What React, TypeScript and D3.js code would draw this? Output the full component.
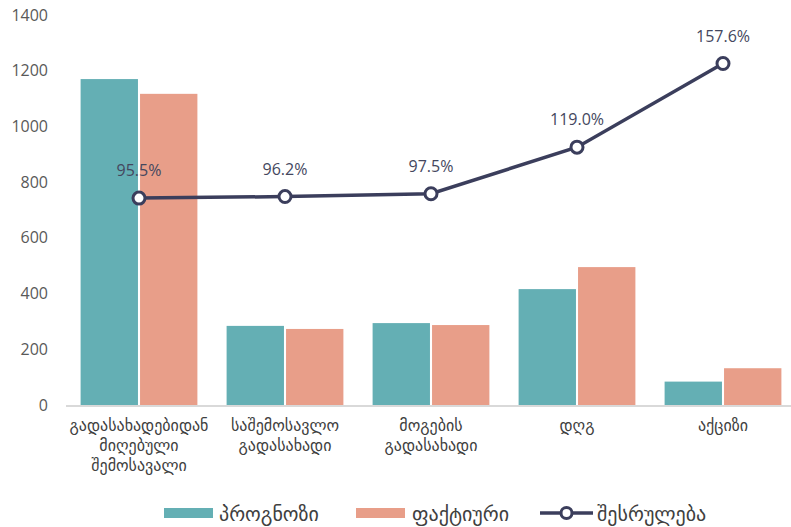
import { useEffect, useRef } from "react";
import * as d3 from "d3";

const categories = [
  ["გადასახადებიდან", "მიღებული", "შემოსავალი"],
  ["საშემოსავლო", "გადასახადი"],
  ["მოგების", "გადასახადი"],
  ["დღგ"],
  ["აქციზი"],
];
const forecast = [1170, 284, 294, 416, 84];
const actual = [1117, 273, 287, 495, 132];
const execution = [95.5, 96.2, 97.5, 119.0, 157.6];
const yTicks = [0, 200, 400, 600, 800, 1000, 1200, 1400];
const seriesNames = ["პროგნოზი", "ფაქტიური", "შესრულება"];

const TEAL = "#64AFB4";
const SALMON = "#E89E89";
const NAVY = "#3B3E5C";
const FONT = "'Open Sans', 'DejaVu Sans', sans-serif";

const width = 791;
const height = 527;

const App = () => {
  const chartRef = useRef<SVGSVGElement>(null);

  useEffect(() => {
    const svg = d3.select(chartRef.current);
    svg.selectAll("*").remove();

    const idx = categories.map((_, i) => i);
    const x = d3
      .scaleBand<number>()
      .domain(idx)
      .range([66, 796])
      .paddingInner(0.2)
      .paddingOuter(0.1);
    const x1 = d3
      .scaleBand<string>()
      .domain(["f", "a"])
      .range([0, x.bandwidth()])
      .paddingInner(0.035);
    const y = d3.scaleLinear().domain([0, 1400]).range([405, 15]);
    // secondary axis (hidden) for the percentage line
    const y2 = d3.scaleLinear().domain([0, 180]).range([405, 15]);

    // y axis labels
    const yAxis = d3
      .axisLeft(y)
      .tickValues(yTicks)
      .tickSize(0)
      .tickPadding(0)
      .tickFormat((d) => String(d));
    svg
      .append("g")
      .attr("transform", "translate(48,0)")
      .call(yAxis)
      .call((g) => g.select(".domain").remove())
      .call((g) =>
        g
          .selectAll("text")
          .attr("font-family", FONT)
          .attr("font-size", 16)
          .attr("fill", "#595959")
      );

    // bars
    const groups = svg
      .selectAll("g.cat")
      .data(idx)
      .enter()
      .append("g")
      .attr("class", "cat")
      .attr("transform", (i) => `translate(${x(i)},0)`);

    groups
      .append("rect")
      .attr("x", x1("f")!)
      .attr("width", x1.bandwidth())
      .attr("y", (i) => y(forecast[i]))
      .attr("height", (i) => y(0) - y(forecast[i]))
      .attr("fill", TEAL);

    groups
      .append("rect")
      .attr("x", x1("a")!)
      .attr("width", x1.bandwidth())
      .attr("y", (i) => y(actual[i]))
      .attr("height", (i) => y(0) - y(actual[i]))
      .attr("fill", SALMON);

    // baseline
    svg
      .append("line")
      .attr("x1", 66)
      .attr("x2", width)
      .attr("y1", y(0) + 1)
      .attr("y2", y(0) + 1)
      .attr("stroke", "#D9D9D9")
      .attr("stroke-width", 2);

    // category labels
    const cx = (i: number) => x(i)! + x.bandwidth() / 2;
    const labels = svg
      .selectAll("text.cat")
      .data(idx)
      .enter()
      .append("text")
      .attr("class", "cat")
      .attr("text-anchor", "middle")
      .attr("font-family", FONT)
      .attr("font-size", 16)
      .attr("fill", "#404040");
    labels
      .selectAll("tspan")
      .data((i) => categories[i].map((t) => ({ t, i })))
      .enter()
      .append("tspan")
      .attr("x", (d) => cx(d.i))
      .attr("y", (_, k) => 431 + k * 20)
      .text((d) => d.t);

    // execution line
    const line = d3
      .line<number>()
      .x((_, i) => cx(i))
      .y((d) => y2(d));
    svg
      .append("path")
      .datum(execution)
      .attr("fill", "none")
      .attr("stroke", NAVY)
      .attr("stroke-width", 3.5)
      .attr("d", line);

    svg
      .selectAll("circle.pt")
      .data(execution)
      .enter()
      .append("circle")
      .attr("class", "pt")
      .attr("cx", (_, i) => cx(i))
      .attr("cy", (d) => y2(d))
      .attr("r", 6)
      .attr("fill", "#FFFFFF")
      .attr("stroke", NAVY)
      .attr("stroke-width", 3);

    svg
      .selectAll("text.pct")
      .data(execution)
      .enter()
      .append("text")
      .attr("class", "pct")
      .attr("x", (_, i) => cx(i))
      .attr("y", (d) => y2(d) - 22)
      .attr("text-anchor", "middle")
      .attr("font-family", FONT)
      .attr("font-size", 16)
      .attr("fill", "#44475E")
      .text((d) => d.toFixed(1) + "%");

    // legend
    const legend = svg.append("g").attr("font-family", FONT).attr("font-size", 20).attr("fill", "#404040");
    legend.append("rect").attr("x", 164).attr("y", 508).attr("width", 49).attr("height", 10).attr("fill", TEAL);
    legend.append("text").attr("x", 219).attr("y", 521).text(seriesNames[0]);
    legend.append("rect").attr("x", 356).attr("y", 508).attr("width", 49).attr("height", 10).attr("fill", SALMON);
    legend.append("text").attr("x", 412).attr("y", 521).text(seriesNames[1]);
    legend
      .append("line")
      .attr("x1", 540)
      .attr("x2", 593)
      .attr("y1", 513)
      .attr("y2", 513)
      .attr("stroke", NAVY)
      .attr("stroke-width", 3.5);
    legend
      .append("circle")
      .attr("cx", 566.5)
      .attr("cy", 513)
      .attr("r", 5.5)
      .attr("fill", "#FFFFFF")
      .attr("stroke", NAVY)
      .attr("stroke-width", 3);
    legend.append("text").attr("x", 597).attr("y", 521).text(seriesNames[2]);
  }, []);

  return (
    <svg
      ref={chartRef}
      width={width}
      height={height}
      style={{ position: "absolute", left: 0, top: 0, background: "#FFFFFF" }}
    />
  );
};

export default App;
